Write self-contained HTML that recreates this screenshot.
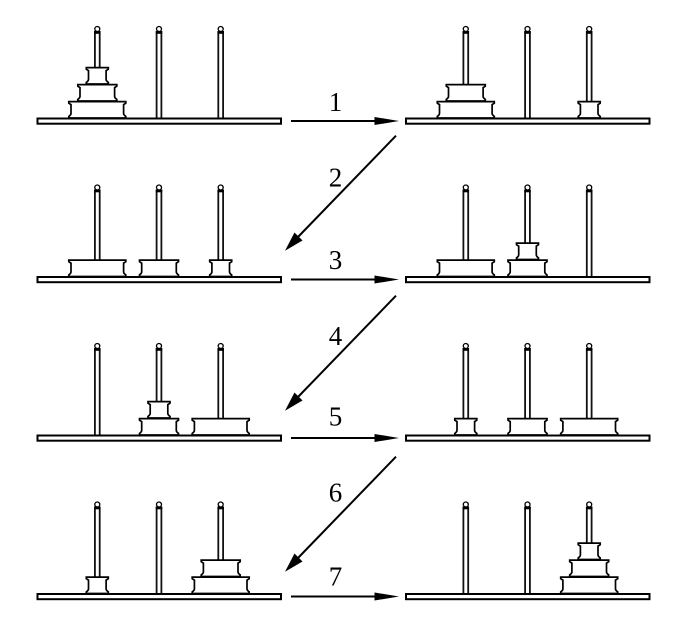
<!DOCTYPE html>
<html><head><meta charset="utf-8"><style>
html,body{margin:0;padding:0;background:#fff}
svg{display:block}
text{font-family:"Liberation Serif",serif;font-size:27px;fill:#000;text-anchor:middle}
</style></head><body>
<svg width="689" height="624" viewBox="0 0 689 624" xmlns="http://www.w3.org/2000/svg">
<defs>
<g id="base" fill="#fff" stroke="#000">
<rect x="37.5" y="118.5" width="243.5" height="5.2" stroke-width="2"/>
</g>
<g id="peg">
<rect x="-2.4" y="32" width="4.8" height="86.5" fill="#fff" stroke="#111" stroke-width="1.8"/>
<rect x="-3.2" y="31" width="6.4" height="2.8" fill="#000"/>
<circle cx="0" cy="29" r="2.5" fill="#fff" stroke="#000" stroke-width="1.3"/>
</g>
<g id="S"><path d="M-11 .6H11V2.2L8.8 3.6V12.4C8.8 14 10 14.6 11 15.4V17H-11V15.4C-10 14.6 -8.8 14 -8.8 12.4V3.6L-11 2.2Z" fill="#fff" stroke="#000" stroke-width="1.7"/></g>
<g id="M"><path d="M-19.5 .6H19.5V2.2L17.3 3.6V12.4C17.3 14 18.5 14.6 19.5 15.4V17H-19.5V15.4C-18.5 14.6 -17.3 14 -17.3 12.4V3.6L-19.5 2.2Z" fill="#fff" stroke="#000" stroke-width="1.7"/></g>
<g id="L"><path d="M-28.5 .6H28.5V2.2L26.3 3.6V12.4C26.3 14 27.5 14.6 28.5 15.4V17H-28.5V15.4C-27.5 14.6 -26.3 14 -26.3 12.4V3.6L-28.5 2.2Z" fill="#fff" stroke="#000" stroke-width="1.7"/></g>
<g id="frame">
<use href="#peg" x="97.3"/><use href="#peg" x="159"/><use href="#peg" x="220.7"/>
<use href="#base"/>
</g>
<g id="harrow">
<line x1="291" y1="121" x2="376" y2="121" stroke="#000" stroke-width="2"/>
<path d="M399 121L374.5 117V125Z" fill="#000"/>
</g>
<g id="darrow">
<line x1="396" y1="135.7" x2="298" y2="237" stroke="#000" stroke-width="2"/>
<path d="M285 250.7L294.5 232.5L302.5 240.5Z" fill="#000"/>
</g>
</defs>

<!-- Row 1 -->
<g>
<use href="#frame"/>
<use href="#L" x="97.3" y="101"/><use href="#M" x="97.3" y="84"/><use href="#S" x="97.3" y="67"/>
<g transform="translate(368.5 0)">
<use href="#frame"/>
<use href="#L" x="97.3" y="101"/><use href="#M" x="97.3" y="84"/><use href="#S" x="220.7" y="101"/>
</g>
</g>

<!-- Row 2 -->
<g transform="translate(0 158.5)">
<use href="#frame"/>
<use href="#L" x="97.3" y="101"/><use href="#M" x="159" y="101"/><use href="#S" x="220.7" y="101"/>
<g transform="translate(368.5 0)">
<use href="#frame"/>
<use href="#L" x="97.3" y="101"/><use href="#M" x="159" y="101"/><use href="#S" x="159" y="84"/>
</g>
</g>

<!-- Row 3 -->
<g transform="translate(0 317)">
<use href="#frame"/>
<use href="#M" x="159" y="101"/><use href="#S" x="159" y="84"/><use href="#L" x="220.7" y="101"/>
<g transform="translate(368.5 0)">
<use href="#frame"/>
<use href="#S" x="97.3" y="101"/><use href="#M" x="159" y="101"/><use href="#L" x="220.7" y="101"/>
</g>
</g>

<!-- Row 4 -->
<g transform="translate(0 475.5)">
<use href="#frame"/>
<use href="#S" x="97.3" y="101"/><use href="#L" x="220.7" y="101"/><use href="#M" x="220.7" y="84"/>
<g transform="translate(368.5 0)">
<use href="#frame"/>
<use href="#L" x="220.7" y="101"/><use href="#M" x="220.7" y="84"/><use href="#S" x="220.7" y="67"/>
</g>
</g>

<!-- Arrows -->
<use href="#harrow"/>
<use href="#harrow" y="158.5"/>
<use href="#harrow" y="317"/>
<use href="#harrow" y="475.5"/>
<use href="#darrow"/>
<use href="#darrow" y="160"/>
<use href="#darrow" y="321"/>

<!-- Labels -->
<text x="335.5" y="111">1</text>
<text x="335.5" y="186.7">2</text>
<text x="335.5" y="269">3</text>
<text x="335.5" y="345">4</text>
<text x="335.5" y="425.7">5</text>
<text x="335.5" y="501.7">6</text>
<text x="335.5" y="585.7">7</text>
</svg>
</body></html>
